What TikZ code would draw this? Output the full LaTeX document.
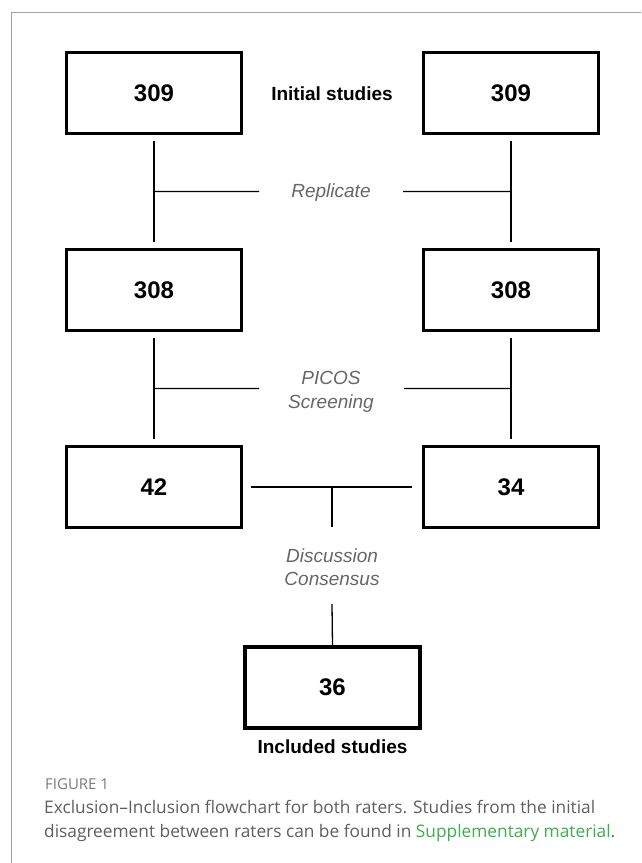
\documentclass[tikz,border=0pt]{standalone}
\usepackage{fontspec}
\setmainfont{Liberation Sans}
\newfontfamily\capfont{Open Sans}
\usetikzlibrary{calc}
\definecolor{framegray}{HTML}{A0A0A0}
\definecolor{labgray}{HTML}{666666}
\definecolor{capgray}{HTML}{5E5E5E}
\definecolor{figgray}{HTML}{7A7A7A}
\definecolor{supgreen}{HTML}{3DAE49}
\tikzset{
  numbox/.style={draw=black, line width=3.2pt, minimum width=175pt, minimum height=81pt,
    inner sep=0pt, font=\fontsize{24}{28}\selectfont\bfseries},
  conn/.style={draw=black, line width=1.3pt},
  steplabel/.style={text=labgray, font=\fontsize{19}{24}\selectfont\itshape, align=center, inner sep=0pt, anchor=base},
  headlabel/.style={font=\fontsize{19}{23}\selectfont\bfseries, inner sep=0pt, anchor=base},
  captext/.style={anchor=base west, inner sep=0pt, text=capgray, font=\capfont\fontsize{17.3}{24}\selectfont},
}
\begin{document}
\begin{tikzpicture}[x=1pt,y=-1pt]
\useasboundingbox (0,0) rectangle (641,863);
\draw[framegray, line width=1pt] (11,863) -- (11,12) -- (641,12);

\node[numbox] (l1) at (154,93) {309};
\node[numbox] (r1) at (511,93) {309};
\node[headlabel] (init) at (332,100) {Initial studies};

\node[numbox] (l2) at (154,290) {308};
\node[numbox] (r2) at (511,290) {308};

\node[numbox] (l3) at (154,487) {42};
\node[numbox] (r3) at (511,487) {34};

\node[numbox] (b4) at (332.5,687.5) {36};
\node[headlabel] (incl) at (332.5,753) {Included studies};

\node[steplabel] (rep) at (331,197) {Replicate};
\node[steplabel] (pic) at (331,408) {PICOS\\Screening};
\node[steplabel] (dis) at (332,585) {Discussion\\[-1pt]Consensus};

% rows 1-2
\draw[conn, shorten <=6pt, shorten >=6pt] (l1.south) -- (l2.north);
\draw[conn, shorten <=6pt, shorten >=6pt] (r1.south) -- (r2.north);
\coordinate (lm1) at ($(l1.south)!0.5!(l2.north)$);
\coordinate (rm1) at ($(r1.south)!0.5!(r2.north)$);
\coordinate (le1) at (259,191.5);
\coordinate (re1) at (403,191.5);
\draw[conn] (lm1) -- (le1);
\draw[conn] (rm1) -- (re1);

% rows 2-3
\draw[conn, shorten <=6pt, shorten >=6pt] (l2.south) -- (l3.north);
\draw[conn, shorten <=6pt, shorten >=6pt] (r2.south) -- (r3.north);
\coordinate (lm2) at ($(l2.south)!0.5!(l3.north)$);
\coordinate (rm2) at ($(r2.south)!0.5!(r3.north)$);
\coordinate (le2) at (259,388.5);
\coordinate (re2) at (404,388.5);
\draw[conn] (lm2) -- (le2);
\draw[conn] (rm2) -- (re2);

% row 3 merge
\draw[conn, shorten <=8pt, shorten >=10pt] (l3.east) -- (r3.west);
\coordinate (mj) at (332,487);
\coordinate (dtop) at (332,527);
\coordinate (dbot) at (332,604);
\draw[conn] (mj) -- (dtop);
\draw[conn] (dbot) -- (b4.north);

% caption
\node[captext, text=figgray, font=\capfont\fontsize{15}{18}\selectfont] (fig) at (45,789) {FIGURE 1};
\node[captext] (cap1) at (44,813) {Exclusion–Inclusion flowchart for both raters. Studies from the initial};
\node[captext] (cap2) at (44,837) {disagreement between raters can be found in \textcolor{supgreen}{Supplementary material}.};
\end{tikzpicture}
\end{document}
